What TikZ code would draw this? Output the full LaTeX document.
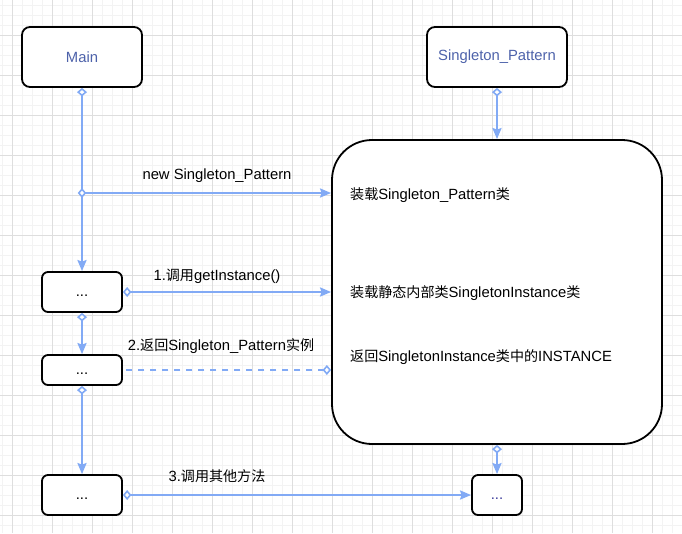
\documentclass[tikz,border=0pt]{standalone}
\usepackage{fontspec}
\setmainfont{Liberation Sans}
\newfontfamily\cjk[Scale=0.95]{Noto Sans CJK SC}
\usetikzlibrary{arrows.meta}
\definecolor{edgeblue}{HTML}{82AAF5}
\definecolor{lblblue}{HTML}{4D62AA}
\definecolor{dotblue}{HTML}{3A3A9A}
\definecolor{gridmajor}{HTML}{DEDEDE}
\definecolor{gridminor}{HTML}{F3F3F3}
\newcommand{\zh}[1]{{\cjk #1}}
\begin{document}
\begin{tikzpicture}[x=1pt,y=-1pt,
  box/.style={draw=black, line width=1.8pt, rounded corners=#1, fill=white, inner sep=0pt, font=\fontsize{14.8}{17}\selectfont},
  dots/.style={text height=9pt, text depth=0pt},
  lbl/.style={inner sep=0pt, font=\fontsize{14.8}{17}\selectfont, text=black},
  txt/.style={inner sep=0pt, anchor=west, font=\fontsize{14.8}{17}\selectfont, text=black},
  edge/.style={draw=edgeblue, line width=2.2pt, {Diamond[length=8.5pt,width=10pt,fill=white,line width=1.6pt]}-{Stealth[length=11pt,width=9pt,inset=1.5pt]}},
  dashedge/.style={draw=edgeblue, line width=2.2pt, dash pattern=on 6pt off 6pt, {Diamond[length=8.5pt,width=10pt,fill=white,line width=1.6pt]}-},
  minorgrid/.style={draw=gridminor, line width=1pt},
  majorgrid/.style={draw=gridmajor, line width=1pt}
]
\useasboundingbox (0,0) rectangle (682,533);
\fill[white] (0,0) rectangle (682,533);
\foreach \i in {0,...,68} \draw[minorgrid] ({2.5+10*\i},0) -- ({2.5+10*\i},533);
\foreach \i in {0,...,53} \draw[minorgrid] (0,{5+10*\i}) -- (682,{5+10*\i});
\foreach \i in {0,...,16} \draw[majorgrid] ({12.5+40*\i},0) -- ({12.5+40*\i},533);
\foreach \i in {0,...,12} \draw[majorgrid] (0,{35+40*\i}) -- (682,{35+40*\i});

% nodes
\node[box=8pt, minimum width=120pt, minimum height=60pt, text=lblblue] (main) at (82,57) {Main};
\node[box=8pt, minimum width=140pt, minimum height=60pt, text=lblblue] (sp) at (497,57) {Singleton\_Pattern};
\node[box=40pt, minimum width=330pt, minimum height=304pt] (big) at (497,292) {};
\node[box=6pt, dots, minimum width=80pt, minimum height=40pt] (b1) at (82,292) {...};
\node[box=6pt, dots, minimum width=80pt, minimum height=30pt] (b2) at (82,370) {...};
\node[box=6pt, dots, minimum width=80pt, minimum height=40pt] (b3) at (82,495) {...};
\node[box=6pt, dots, minimum width=50pt, minimum height=40pt, text=dotblue] (b4) at (497,495) {...};

% texts in the big box
\node[txt] (t1) at (350,195) {\zh{装载}Singleton\_Pattern\zh{类}};
\node[txt] (t2) at (350,293) {\zh{装载静态内部类}SingletonInstance\zh{类}};
\node[txt] (t3) at (350,357) {\zh{返回}SingletonInstance\zh{类中的}INSTANCE};

% connectors
\coordinate (j) at (77.75,193);
\draw[edge] (main.south) -- (b1.north);
\draw[edge] (j) -- (j -| big.west);
\draw[edge] (sp.south) -- (big.north);
\draw[edge] (b1.east) -- (b1.east -| big.west);
\draw[edge] (b1.south) -- (b2.north);
\draw[dashedge] (b2.east -| big.west) -- (b2.east);
\draw[edge] (b2.south) -- (b3.north);
\draw[edge] (b3.east) -- (b4.west);
\draw[edge] (big.south) -- (b4.north);

% connector labels
\node[lbl] (l0) at (217,176) {new Singleton\_Pattern};
\node[lbl] (l1) at (217,276) {1.\zh{调用}getInstance()};
\node[lbl] (l2) at (221,346) {2.\zh{返回}Singleton\_Pattern\zh{实例}};
\node[lbl] (l3) at (217,476) {3.\zh{调用其他方法}};
\end{tikzpicture}
\end{document}
